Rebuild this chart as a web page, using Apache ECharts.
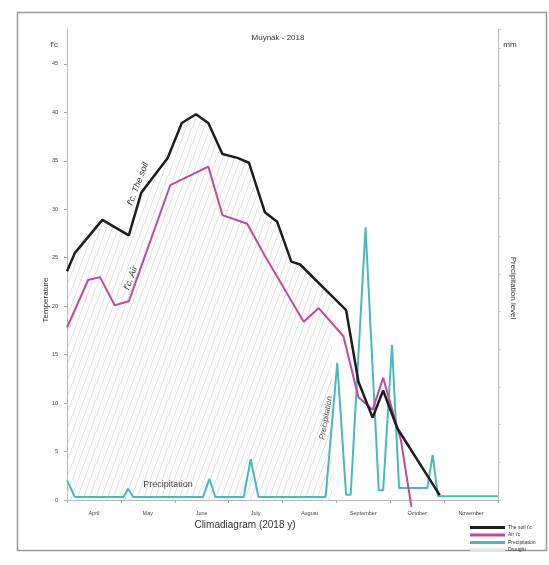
<!DOCTYPE html>
<html>
<head>
<meta charset="utf-8">
<script src="https://cdn.jsdelivr.net/npm/echarts@6/dist/echarts.min.js"></script>
<style>html,body{margin:0;padding:0;background:#fff}#c{width:549px;height:565px}</style>
</head>
<body>
<div id="c"></div>
<script>
// ---- data (x = days from 1 April 2018) ----
const months = ['April','May','June','July','August','September','October','November'];
const soilDays = [0, 4.5, 20, 35, 42, 57, 65, 73, 80, 88, 96.5, 103, 112, 119, 127, 132, 158, 165, 173, 179, 187, 211];
const soilTemp = [23.6, 25.5, 28.9, 27.3, 31.7, 35.3, 38.9, 39.8, 38.9, 35.7, 35.3, 34.8, 29.7, 28.7, 24.6, 24.3, 19.6, 12.2, 8.5, 11.3, 7.4, 0.5];
const airDays = [0, 12, 18.7, 27, 35, 58.5, 80, 88, 102, 112, 134, 142.5, 156.5, 165, 173, 179, 189, 195];
const airTemp = [17.8, 22.7, 23.0, 20.1, 20.5, 32.5, 34.4, 29.4, 28.5, 25.2, 18.4, 19.8, 16.9, 10.6, 9.3, 12.6, 6.2, -0.7];
const precDays = [0, 4.5, 32, 34.6, 37.5, 77, 80.6, 84, 100, 104, 108.4, 146.4, 153, 158, 160.6, 169, 176.5, 179, 184, 188, 204, 207, 210, 244];
const precVals = [2.6, 0.4, 0.4, 1.5, 0.4, 0.4, 2.8, 0.4, 0.4, 5.4, 0.4, 0.4, 18.2, 0.7, 0.7, 36.2, 1.3, 1.3, 20.6, 1.6, 1.6, 6.0, 0.5, 0.5];
const droughtDays = [0, 4.5, 20, 35, 42, 57, 65, 73, 80, 88, 96.5, 103, 112, 119, 127, 132, 146.4, 150, 150];
const droughtVals = [23.6, 25.5, 28.9, 27.3, 31.7, 35.3, 38.9, 39.8, 38.9, 35.7, 35.3, 34.8, 29.7, 28.7, 24.6, 24.3, 21.7, 21.2, 0];
const tempTicks = [0, 5, 10, 15, 20, 25, 30, 35, 40, 45];

const zip = (a, b) => a.map((v, i) => [v, b[i]]);

// hatch pattern
const pc = document.createElement('canvas');
pc.width = 6; pc.height = 16;
const pctx = pc.getContext('2d');
pctx.strokeStyle = '#d2d2d2';
pctx.lineWidth = 0.7;
pctx.beginPath();
pctx.moveTo(-6, 32); pctx.lineTo(12, -16);
pctx.stroke();

const chart = echarts.init(document.getElementById('c'), null, {renderer: 'canvas'});
const small = {fontFamily: 'Liberation Sans, Arial, sans-serif'};
chart.setOption({
  animation: false,
  backgroundColor: '#fff',
  grid: {left: 67, right: 51, top: 29, bottom: 65},
  legend: {
    orient: 'vertical', left: 465, top: 520, itemGap: 2.5,
    itemWidth: 35, itemHeight: 3, icon: 'rect',
    textStyle: {fontSize: 5, color: '#333', padding: [0,0,0,-2], ...small},
    data: ['The soil t\'c', 'Air t\'c', 'Precipitation', 'Drought']
  },
  xAxis: [
    {type: 'value', min: 0, max: 244, show: true,
     axisLine: {show: true, lineStyle: {color: '#bbb'}}, axisTick: {show: false},
     axisLabel: {show: false}, splitLine: {show: false}},
    {type: 'category', data: months, position: 'bottom', boundaryGap: true,
     axisLine: {show: false},
     axisTick: {show: true, length: 3, lineStyle: {color: '#aaa'}},
     axisLabel: {fontSize: 5.5, color: '#444', margin: 10, ...small},
     splitLine: {show: false}}
  ],
  yAxis: [
    {type: 'value', min: 0, max: 48.6, interval: 5,
     axisLine: {show: true, lineStyle: {color: '#bbb'}},
     axisTick: {show: true, length: 3, lineStyle: {color: '#aaa'}},
     axisLabel: {fontSize: 5.5, color: '#444', margin: 9, showMaxLabel: false,
       formatter: v => tempTicks.indexOf(v) >= 0 ? String(v) : '', ...small},
     splitLine: {show: false}},
    {type: 'value', min: 0, max: 62.5, interval: 5, position: 'right',
     axisLine: {show: true, lineStyle: {color: '#bbb'}},
     axisTick: {show: true, length: 3, lineStyle: {color: '#ccc'}},
     axisLabel: {show: false}, splitLine: {show: false}}
  ],
  series: [
    {name: 'Drought', type: 'line', data: zip(droughtDays, droughtVals), symbol: 'none',
     lineStyle: {width: 0, color: '#dfe6e6'}, itemStyle: {color: '#dfe6e6'},
     areaStyle: {color: {image: pc, repeat: 'repeat'}, opacity: 1}, z: 1},
    {name: 'The soil t\'c', type: 'line', data: zip(soilDays, soilTemp), symbol: 'none',
     lineStyle: {width: 2.5, color: '#1e1e1e'}, itemStyle: {color: '#1e1e1e'}, z: 5},
    {name: 'Air t\'c', type: 'line', data: zip(airDays, airTemp), symbol: 'none', clip: false,
     lineStyle: {width: 2, color: '#c24a9c'}, itemStyle: {color: '#c24a9c'}, z: 4},
    {name: 'Precipitation', type: 'line', yAxisIndex: 1, data: zip(precDays, precVals), symbol: 'none',
     lineStyle: {width: 2, color: '#4bb8bf'}, itemStyle: {color: '#4bb8bf'}, z: 3}
  ],
  graphic: [
    {type: 'rect', shape: {x: 17.5, y: 12.5, width: 529, height: 538}, style: {fill: 'none', stroke: '#999', lineWidth: 1.5}, silent: true},
    {type: 'text', x: 278, y: 38, style: {text: 'Muynak - 2018', fontSize: 8, fill: '#333', align: 'center', verticalAlign: 'middle', ...small}},
    {type: 'text', x: 54, y: 45, style: {text: 'f\'c', fontSize: 8, fill: '#333', align: 'center', verticalAlign: 'middle', ...small}},
    {type: 'text', x: 510, y: 45, style: {text: 'mm', fontSize: 8, fill: '#333', align: 'center', verticalAlign: 'middle', ...small}},
    {type: 'text', x: 46, y: 300, rotation: Math.PI / 2, style: {text: 'Temperature', fontSize: 8, fill: '#333', align: 'center', verticalAlign: 'middle', ...small}},
    {type: 'text', x: 513, y: 288, rotation: -Math.PI / 2, style: {text: 'Precipitation level', fontSize: 8, fill: '#333', align: 'center', verticalAlign: 'middle', ...small}},
    {type: 'text', x: 245, y: 525, style: {text: 'Climadiagram (2018 y)', fontSize: 10, fill: '#333', align: 'center', verticalAlign: 'middle', ...small}},
    {type: 'text', x: 138, y: 184, rotation: 69 * Math.PI / 180, style: {text: 'f\'c. The soil', fontSize: 9, fontStyle: 'italic', fill: '#333', align: 'center', verticalAlign: 'middle', ...small}},
    {type: 'text', x: 131, y: 278, rotation: 70 * Math.PI / 180, style: {text: 'f\'c. Air', fontSize: 9, fontStyle: 'italic', fill: '#333', align: 'center', verticalAlign: 'middle', ...small}},
    {type: 'text', x: 326, y: 418, rotation: 80 * Math.PI / 180, style: {text: 'Precipitation', fontSize: 8, fontStyle: 'italic', fill: '#444', align: 'center', verticalAlign: 'middle', ...small}},
    {type: 'text', x: 168, y: 485, style: {text: 'Precipitation', fontSize: 9, fill: '#333', align: 'center', verticalAlign: 'middle', ...small}}
  ]
});
</script>
</body>
</html>
